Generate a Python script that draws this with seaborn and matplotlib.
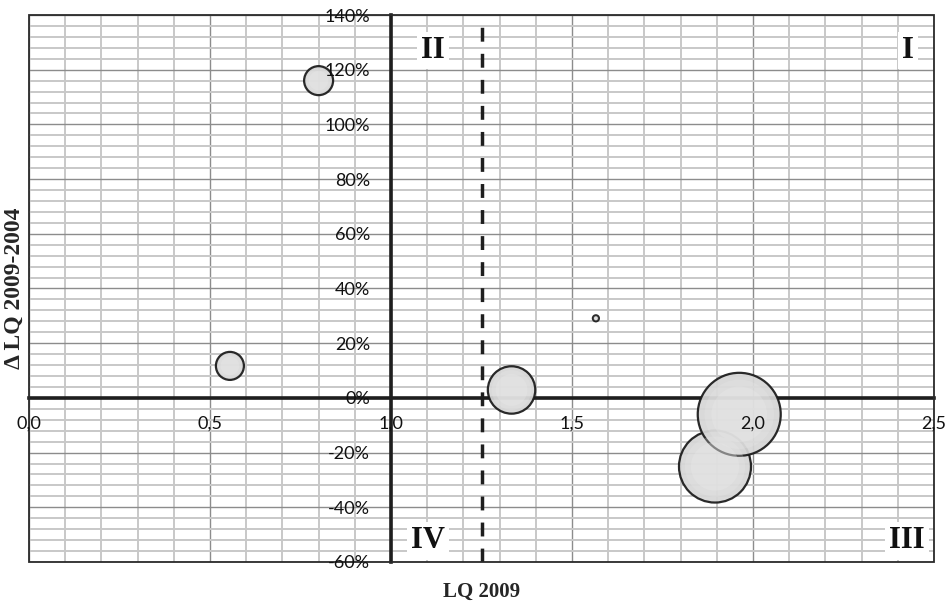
import numpy as np
import pandas as pd
import matplotlib
matplotlib.use("Agg")
import matplotlib.pyplot as plt
from matplotlib.patches import Rectangle
from matplotlib.ticker import PercentFormatter, FuncFormatter
import seaborn as sns

# ---- data ----
lq_2009 = [0.80, 0.555, 1.333, 1.566, 1.895, 1.962]
delta_lq = [1.16, 0.117, 0.029, 0.291, -0.251, -0.060]
weight = [210, 196, 562, 9, 1296, 1722]

x_ticks = [0.0, 0.5, 1.0, 1.5, 2.0, 2.5]
y_ticks = [-0.6, -0.4, -0.2, 0.0, 0.2, 0.4, 0.6, 0.8, 1.0, 1.2, 1.4]
quadrants = ["I", "II", "III", "IV"]
threshold = 1.25

df = pd.DataFrame({"lq": lq_2009, "dlq": delta_lq, "w": weight})

sns.set_theme(style="white")
plt.rcParams["font.family"] = ["Lato", "DejaVu Sans"]
plt.rcParams["axes.unicode_minus"] = False

fig = plt.figure(figsize=(9.53, 6.03), dpi=100)
ax = fig.add_axes([29 / 953, 41 / 603, 905 / 953, 547 / 603])
ax.set_xlim(0, 2.5)
ax.set_ylim(-0.6, 1.4)

# grid
minor_col, major_col = "#c8c8c8", "#8c8c8c"
for v in np.arange(0, 2.5001, 0.1):
    major = abs(v / 0.5 - round(v / 0.5)) < 1e-6
    ax.axvline(v, color=major_col if major else minor_col, lw=1.0 if major else 1.4, zorder=0.5)
for v in np.arange(-0.6, 1.4001, 0.04):
    major = abs(v / 0.2 - round(v / 0.2)) < 1e-6
    ax.axhline(v, color=major_col if major else minor_col, lw=1.0 if major else 1.4, zorder=0.5)

# bubbles
smax = 2.0736 * max(weight)
sns.scatterplot(data=df, x="lq", y="dlq", size="w", sizes=(0, smax),
                size_norm=(0, max(weight)), legend=False, ax=ax,
                color="#d6d6d6", edgecolor="#1a1a1a", linewidth=1.6,
                alpha=0.93, zorder=3)
# soft lighter centre
for frac, a in [(0.7, 0.25), (0.45, 0.3)]:
    sns.scatterplot(data=df, x="lq", y="dlq", size="w", sizes=(0, smax * frac),
                    size_norm=(0, max(weight)), legend=False, ax=ax,
                    color="#ebebeb", edgecolor="none", linewidth=0,
                    alpha=a, zorder=3.1)

# threshold dashed line
ax.axvline(threshold, color="#1e1e1e", lw=2.5, ls=(0, (4, 3.5)), zorder=2.6)

# spines crossing at (1, 0)
for s in ["top", "right"]:
    ax.spines[s].set_visible(False)
ax.spines["left"].set_position(("data", 1.0))
ax.spines["bottom"].set_position(("data", 0.0))
for s in ["left", "bottom"]:
    ax.spines[s].set_linewidth(2.6)
    ax.spines[s].set_color("#1e1e1e")
    ax.spines[s].set_zorder(2.55)
ax.add_patch(Rectangle((0, 0), 1, 1, transform=ax.transAxes, fill=False,
                       lw=1.3, edgecolor="#2a2a2a", zorder=2.7, clip_on=False))

ax.set_xticks(x_ticks)
ax.set_yticks(y_ticks)
ax.xaxis.set_major_formatter(FuncFormatter(lambda v, p: f"{v:.1f}".replace(".", ",")))
ax.yaxis.set_major_formatter(PercentFormatter(1.0, decimals=0))
ax.tick_params(axis="x", length=0, pad=13, labelsize=13, colors="#111111")
ax.tick_params(axis="y", length=0, pad=15, labelsize=13, colors="#111111")
ax.xaxis.set_zorder(5)
ax.yaxis.set_zorder(5)
ax.set_xlabel("")
ax.set_ylabel("")

# quadrant labels
qfont = dict(family="Liberation Serif", weight="bold", fontsize=22, color="#111111",
             ha="center", va="center", zorder=6)
qpos = {"I": (2.428, 1.27), "II": (1.116, 1.27), "III": (2.425, -0.523), "IV": (1.102, -0.523)}
for q in quadrants:
    ax.text(*qpos[q], q, bbox=dict(facecolor="white", edgecolor="none", pad=3), **qfont)

# axis titles
fig.text(481.5 / 953, 1 - 592 / 603, "LQ 2009", family="Liberation Serif",
         weight="bold", fontsize=15, ha="center", va="center")
fig.text(14 / 953, 1 - 288 / 603, "Δ LQ 2009-2004", family="Liberation Serif",
         weight="bold", fontsize=17, ha="center", va="center", rotation=90)

fig.savefig("out.png", dpi=100)
